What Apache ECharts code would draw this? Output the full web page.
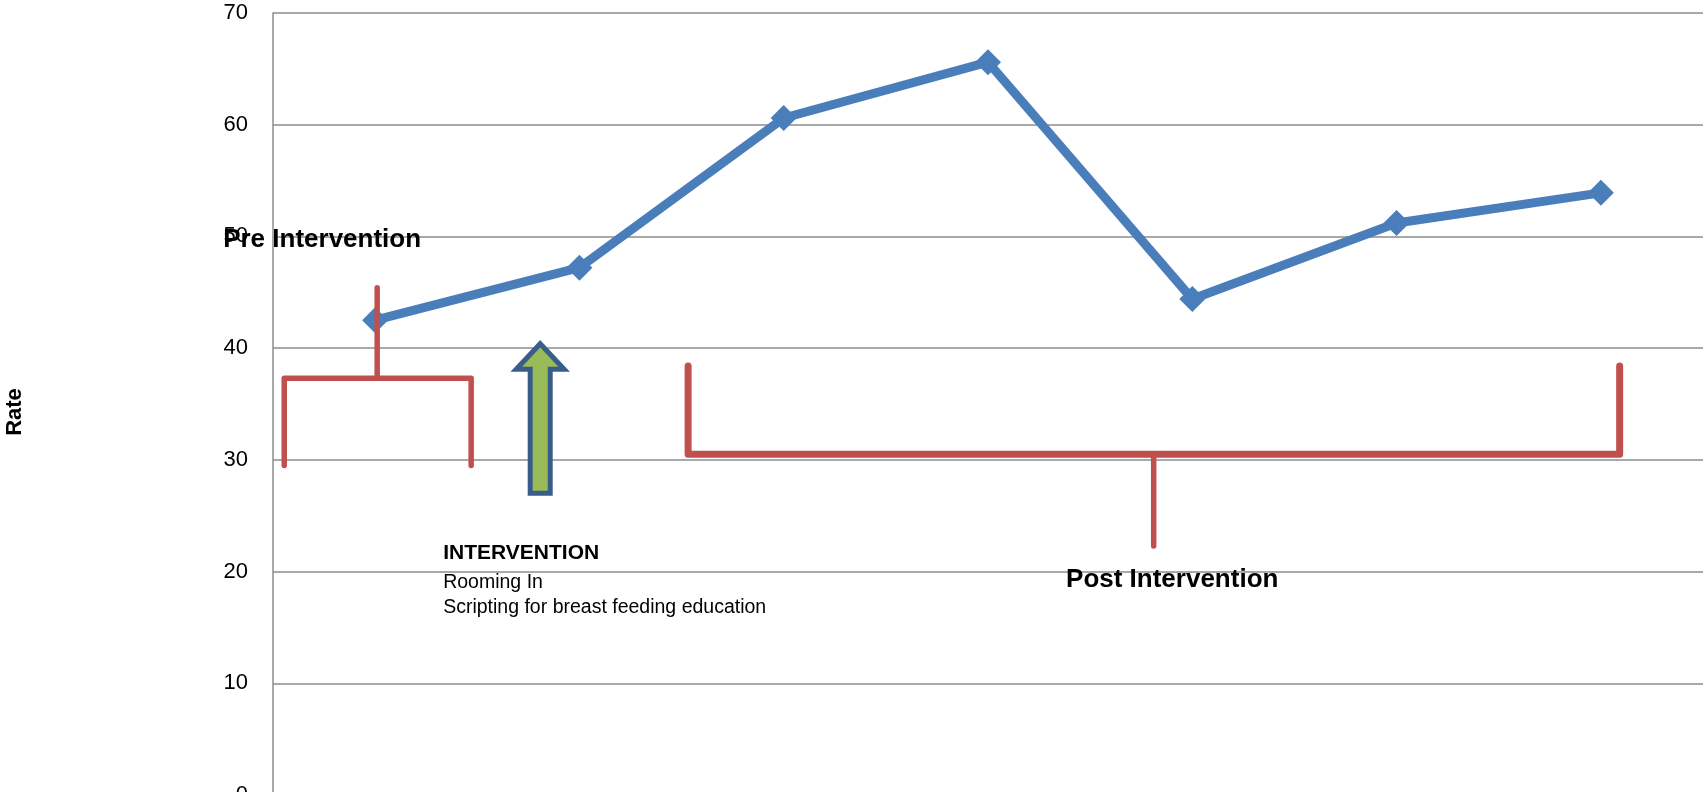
<!DOCTYPE html>
<html><head><meta charset="utf-8">
<script src="https://cdn.jsdelivr.net/npm/echarts@6/dist/echarts.min.js"></script>
<style>html,body{margin:0;padding:0;background:#fff}#c{width:1703px;height:792px}</style>
</head><body><div id="c"></div>
<script>
// ---- data ----
const categories = ['1', '2', '3', '4', '5', '6', '7'];
const rateValues = [42.5, 47.2, 60.6, 65.6, 44.4, 51.2, 53.9];
const yMin = 0, yMax = 70, yStep = 10;
// annotation geometry in data space (x = category index, y = rate)
const preBracket = [[-0.445, 29.5], [-0.445, 37.3], [0.47, 37.3], [0.47, 29.5]];
const preStem = [[0.01, 37.3], [0.01, 45.4]];
const postBracket = [[1.532, 38.4], [1.532, 30.5], [6.092, 30.5], [6.092, 38.4]];
const postStem = [[3.811, 30.5], [3.811, 22.3]];
const arrowData = [[0.808, 40.4, 38.1, 27.0]]; // x, tip, head base, bottom
const textNotes = [
  { text: 'Pre Intervention', x: -0.744, y: 49.7, size: 26, weight: 'bold' },
  { text: 'INTERVENTION', x: 0.333, y: 21.6, size: 21, weight: 'bold' },
  { text: 'Rooming In', x: 0.333, y: 19.0, size: 19.5, weight: 'normal' },
  { text: 'Scripting for breast feeding education', x: 0.333, y: 16.75, size: 19.5, weight: 'normal' },
  { text: 'Post Intervention', x: 3.382, y: 19.3, size: 26, weight: 'bold' }
];

const FONT = '"Liberation Sans", Arial, sans-serif';
const chart = echarts.init(document.getElementById('c'), null, { renderer: 'canvas' });
const red = '#C0504D';
function bracketSeries(data, width) {
  return {
    type: 'line', xAxisIndex: 1, yAxisIndex: 0, data: data, symbol: 'none', z: 4,
    lineStyle: { color: red, width: width, cap: 'round', join: 'round' },
    silent: true, animation: false
  };
}
chart.setOption({
  animation: false,
  backgroundColor: '#fff',
  grid: { left: 273, right: 0, top: 13, height: 782, containLabel: false, outerBoundsMode: 'none' },
  xAxis: [
    { type: 'category', data: categories, boundaryGap: true, axisLine: { show: false }, axisTick: { show: false }, axisLabel: { show: false } },
    { type: 'value', min: -0.5, max: 6.5, show: false }
  ],
  yAxis: {
    type: 'value', min: yMin, max: yMax, interval: yStep,
    name: 'Rate', nameLocation: 'middle', nameRotate: 90, nameGap: 247,
    nameTextStyle: { fontFamily: FONT, fontSize: 22, fontWeight: 'bold', color: '#000', padding: [0, 16, 0, 0] },
    axisLine: { show: true, onZero: false, lineStyle: { color: '#8c8c8c', width: 1.5 } },
    axisTick: { show: false },
    axisLabel: { fontFamily: FONT, fontSize: 22, color: '#000', margin: 25 },
    splitLine: { lineStyle: { color: '#8c8c8c', width: 1.5 } }
  },
  series: [
    {
      type: 'line', xAxisIndex: 0, yAxisIndex: 0, data: rateValues, z: 3,
      symbol: 'diamond', symbolSize: 26,
      lineStyle: { color: '#4A7EBB', width: 9, join: 'round' },
      itemStyle: { color: '#4A7EBB' }
    },
    bracketSeries(preBracket, 5.5),
    bracketSeries(preStem, 5.5),
    bracketSeries(postBracket, 7),
    bracketSeries(postStem, 5.5),
    {
      type: 'custom', xAxisIndex: 1, yAxisIndex: 0, data: arrowData, z: 5,
      renderItem: function (params, api) {
        const x = api.value(0);
        const tip = api.coord([x, api.value(1)]);
        const base = api.coord([x, api.value(2)]);
        const bottom = api.coord([x, api.value(3)]);
        const hw = 24, sw = 10;
        return {
          type: 'polygon',
          shape: { points: [[tip[0], tip[1]], [tip[0] + hw, base[1]], [tip[0] + sw, base[1]], [tip[0] + sw, bottom[1]],
            [tip[0] - sw, bottom[1]], [tip[0] - sw, base[1]], [tip[0] - hw, base[1]]] },
          style: { fill: '#9BBB59', stroke: '#385D8A', lineWidth: 5, lineJoin: 'miter' }
        };
      }
    }
  ]
});
const graphics = textNotes.map(function (n) {
  const p = chart.convertToPixel({ xAxisIndex: 1, yAxisIndex: 0 }, [n.x, n.y]);
  return {
    type: 'text', x: p[0], y: p[1], z: 10,
    style: { text: n.text, fill: '#000', font: n.weight + ' ' + n.size + 'px ' + FONT, align: 'left', verticalAlign: 'middle' }
  };
});
chart.setOption({ graphic: graphics });
</script></body></html>
